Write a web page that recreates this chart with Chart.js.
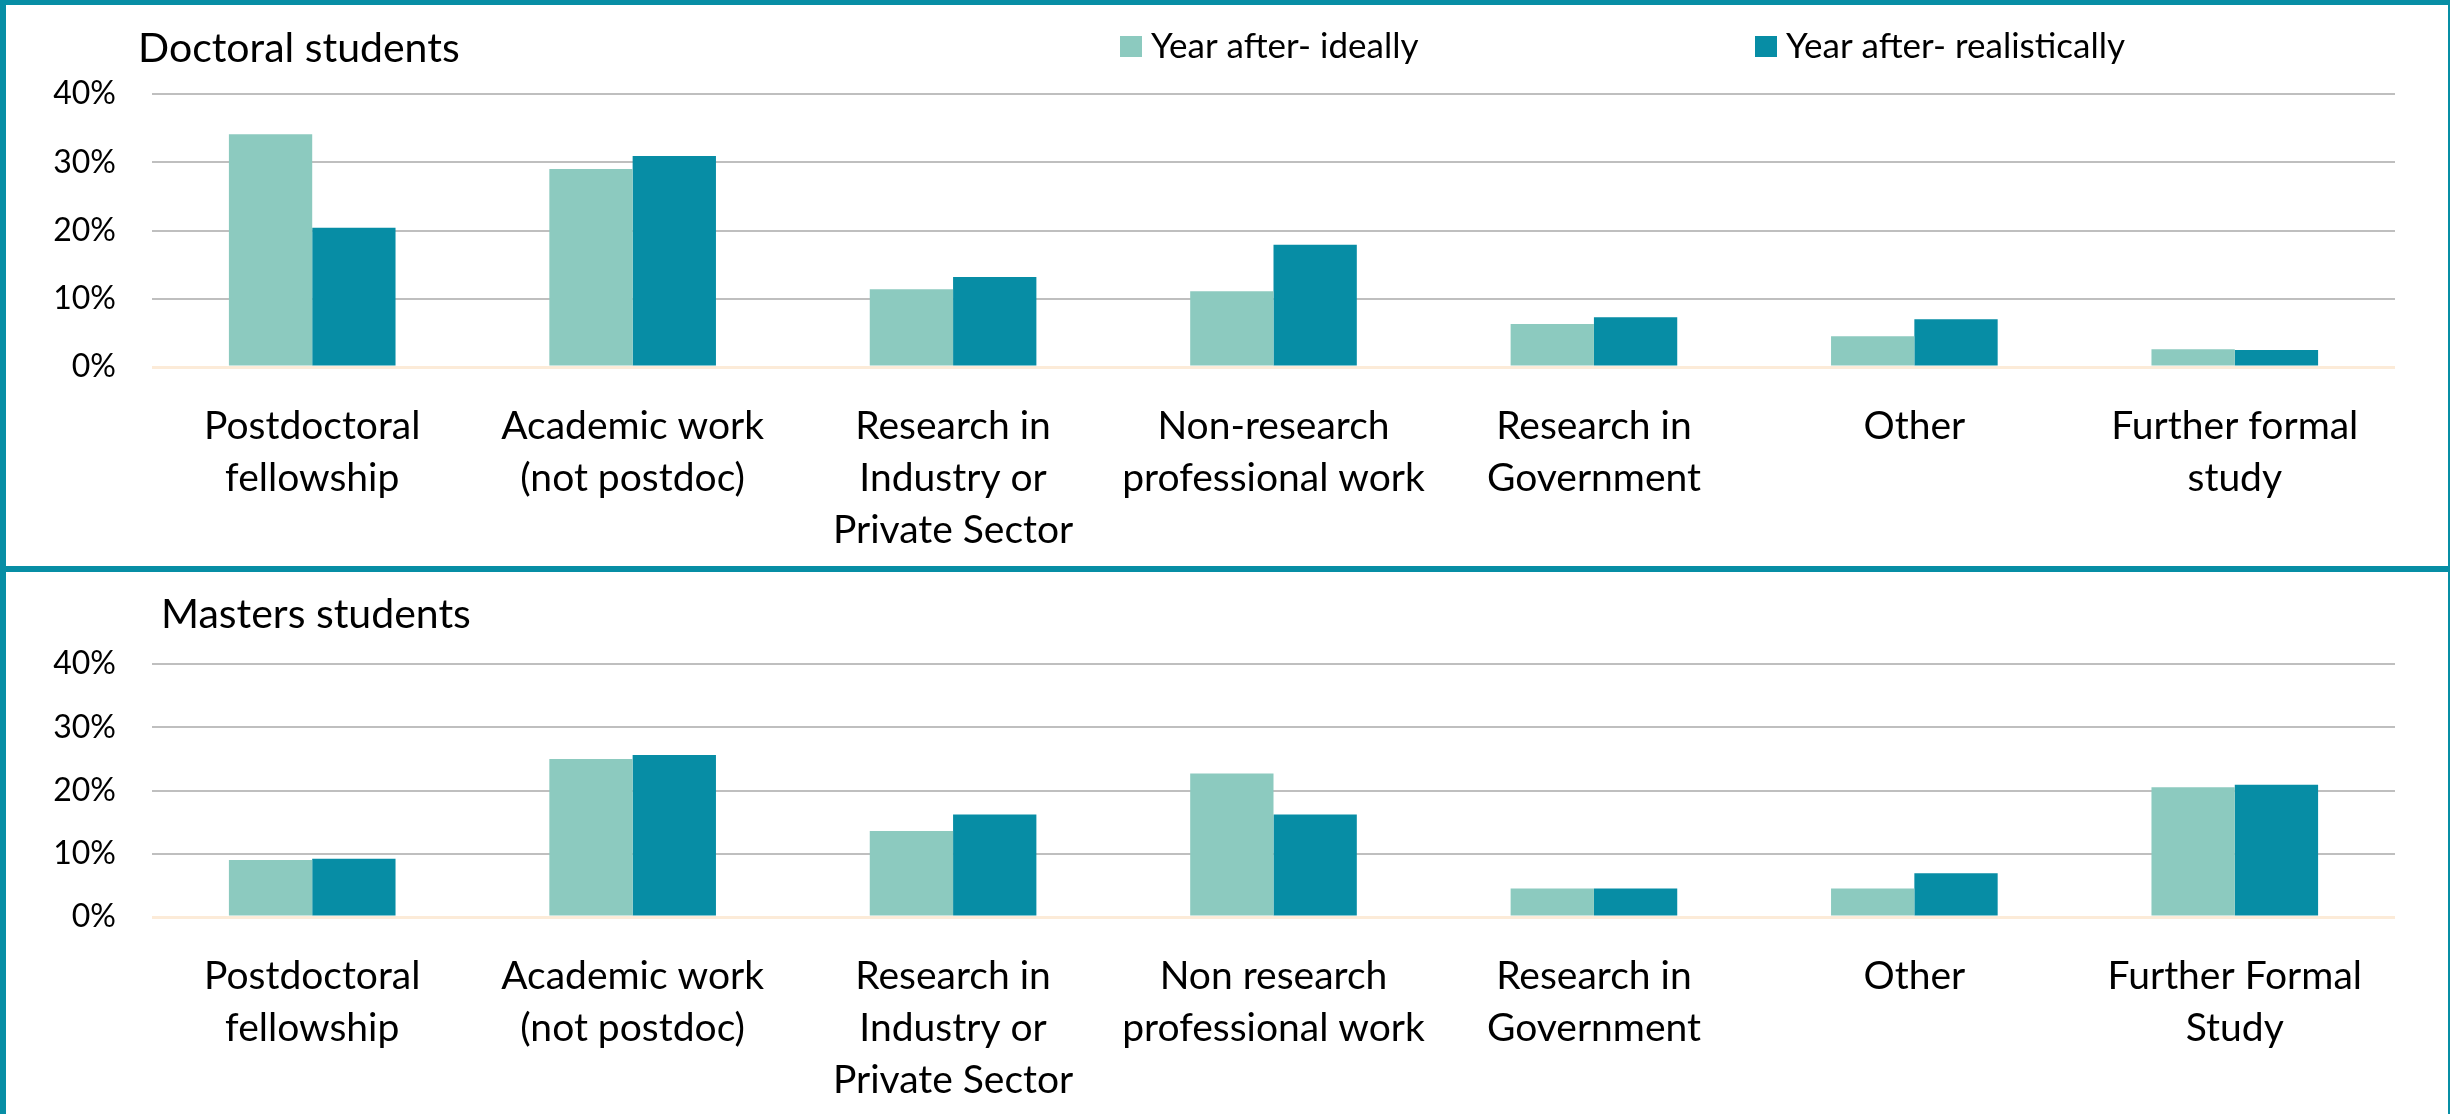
<!DOCTYPE html>
<html>
<head>
<meta charset="utf-8">
<script src="https://cdn.jsdelivr.net/npm/chart.js@4.4.1/dist/chart.umd.min.js"></script>
<style>
  body { margin: 0; background: #fff; width: 2450px; height: 1114px; position: relative; overflow: hidden; }
  canvas { position: absolute; left: 0; }
  #doctoral { top: 0; }
  #masters { top: 566px; }
  .rule { position: absolute; background: #078ea5; }
</style>
</head>
<body>
<canvas id="doctoral" width="2450" height="566"></canvas>
<canvas id="masters" width="2450" height="548"></canvas>
<div class="rule" style="left:0;top:0;width:2450px;height:5px"></div>
<div class="rule" style="left:0;top:566px;width:2450px;height:6px"></div>
<div class="rule" style="left:0;top:0;width:6px;height:1114px"></div>
<div class="rule" style="left:2448px;top:0;width:2px;height:1114px"></div>
<script>
const seriesNames = ["Year after- ideally", "Year after- realistically"];
const seriesColors = ["#8ccabf", "#078da5"];
const yTicks = [0, 10, 20, 30, 40];

const doctoralCategories = [
  ["Postdoctoral", "fellowship"],
  ["Academic work", "(not postdoc)"],
  ["Research in", "Industry or", "Private Sector"],
  ["Non-research", "professional work"],
  ["Research in", "Government"],
  "Other",
  ["Further formal", "study"],
];
const doctoralIdeal = [34.1, 29.0, 11.4, 11.1, 6.3, 4.5, 2.6];
const doctoralReal = [20.4, 30.9, 13.2, 17.9, 7.3, 7.0, 2.5];

const mastersCategories = [
  ["Postdoctoral", "fellowship"],
  ["Academic work", "(not postdoc)"],
  ["Research in", "Industry or", "Private Sector"],
  ["Non research", "professional work"],
  ["Research in", "Government"],
  "Other",
  ["Further Formal", "Study"],
];
const mastersIdeal = [9.0, 25.0, 13.6, 22.7, 4.5, 4.5, 20.5];
const mastersReal = [9.2, 25.6, 16.2, 16.2, 4.5, 6.9, 20.9];

Chart.defaults.font.family = "Lato";
Chart.defaults.color = "#000";

// title on the left, legend swatches further right
const panelHeader = {
  id: "panelHeader",
  afterDraw(chart, args, opts) {
    const ctx = chart.ctx;
    ctx.save();
    ctx.textBaseline = "alphabetic";
    ctx.textAlign = "left";
    ctx.fillStyle = "#000";
    ctx.font = "41px Lato";
    ctx.fillText(opts.title, opts.titleX, 62);
    if (opts.legendX) {
      ctx.font = "35px Lato";
      chart.data.datasets.forEach((ds, i) => {
        const x = opts.legendX[i];
        ctx.fillStyle = ds.backgroundColor;
        ctx.fillRect(x, 36, 22, 21);
        ctx.fillStyle = "#000";
        ctx.fillText(ds.label, x + 31, 58);
      });
    }
    ctx.restore();
  },
};

function drawPanel(id, categories, ideal, real, title, titleX, legendX, plotTop, plotBottom) {
  const canvas = document.getElementById(id);
  const xHeight = canvas.height - plotBottom;
  return new Chart(canvas, {
    type: "bar",
    data: {
      labels: categories,
      datasets: [
        { label: seriesNames[0], data: ideal, backgroundColor: seriesColors[0] },
        { label: seriesNames[1], data: real, backgroundColor: seriesColors[1] },
      ],
    },
    plugins: [panelHeader],
    options: {
      responsive: false,
      animation: false,
      layout: { padding: { left: 0, right: 55, top: plotTop, bottom: 0 } },
      datasets: {
        bar: { categoryPercentage: 0.52, barPercentage: 1 },
      },
      plugins: {
        legend: { display: false },
        tooltip: { enabled: false },
        panelHeader: { title: title, titleX: titleX, legendX: legendX },
      },
      scales: {
        x: {
          grid: { display: false },
          border: { display: false },
          ticks: {
            font: { size: 39, lineHeight: 1.34 },
            padding: 25,
            maxRotation: 0,
            autoSkip: false,
          },
          afterFit(scale) { scale.height = xHeight; },
        },
        y: {
          min: 0,
          max: 40,
          afterBuildTicks(scale) { scale.ticks = yTicks.map(v => ({ value: v })); },
          border: { display: false },
          grid: {
            drawTicks: false,
            color: c => (c.tick && c.tick.value === 0 ? "#fcebd8" : "#bfbfbf"),
            lineWidth: c => (c.tick && c.tick.value === 0 ? 3 : 2),
          },
          ticks: {
            font: { size: 32 },
            padding: 36,
            callback: v => v + "%",
          },
          afterFit(scale) { scale.width = 152; },
        },
      },
    },
  });
}

drawPanel("doctoral", doctoralCategories, doctoralIdeal, doctoralReal,
  "Doctoral students", 138, [1120, 1755], 94, 367);
drawPanel("masters", mastersCategories, mastersIdeal, mastersReal,
  "Masters students", 161, null, 98, 351);
</script>
</body>
</html>
